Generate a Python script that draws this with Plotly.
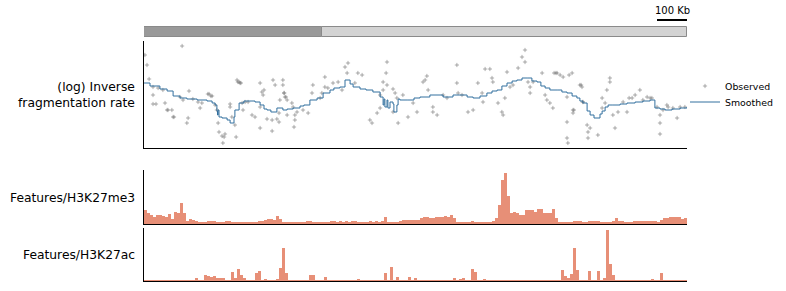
import plotly.graph_objects as go
import numpy as np

# ---------------- data ----------------
region_start = [0, 593]            # Kb
region_end = [593, 1810]
region_colors = ["#999999", "#d3d3d3"]
scale_len = 100                    # Kb
bin_size = 10                      # Kb

obs_pos = [3,10,17,127,30,30,30,47,63,70,80,93,97,120,130,150,147,143,163,180,
           193,187,213,223,237,243,247,250,260,263,270,267,287,287,293,303,307,313,320,310,
           327,337,330,347,360,370,387,393,397,387,400,410,427,443,427,387,453,463,463,467,
           470,477,450,450,477,493,497,503,500,503,510,530,547,563,560,587,593,603,603,613,
           630,647,660,677,680,670,703,713,727,753,760,777,787,787,797,807,810,797,810,830,
           837,843,847,830,863,880,910,897,930,937,943,947,963,963,977,997,1010,1043,1043,1047,
           1060,1080,1097,1113,1127,1130,1153,1160,1163,1180,1193,1197,1203,1210,1220,1230,1247,1260,1270,1270,
           1280,1287,1287,1297,1327,1337,1343,1353,1363,1377,1387,1397,1427,1410,1410,1410,1413,1430,1430,1453,
           1460,1463,1477,1480,1480,1487,1513,1527,1527,1537,1543,1553,1553,1563,1570,1580,1597,1610,1627,1637,
           1653,1663,1677,1687,1710,1720,1720,1720,1730,1743,1747,1763,1777,1787,1803,
           40,77,100,217,227,317,323,430,437,467,473,1137,1367,1373,1417,1433,1457,1463,1617,1693]
obs_val = [93,83,69,102,61,53,44,60,58,45,38,38,31,51,48,57,30,25,49,46,
           45,40,54,52,43,38,25,16,12,5,14,11,44,41,31,23,11,66,65,68,
           45,46,38,46,33,31,65,56,53,41,58,29,28,29,17,20,48,68,63,55,
           51,48,35,26,33,45,41,28,21,33,36,38,35,63,55,50,55,61,71,60,
           65,66,58,75,85,81,65,75,73,28,25,35,40,53,58,75,86,66,63,59,
           55,50,25,36,53,31,36,45,66,68,72,58,41,36,33,53,50,83,65,55,
           53,36,38,65,55,46,79,70,66,45,36,33,50,76,61,63,80,91,98,86,
           66,61,55,66,75,53,48,45,40,75,73,71,75,51,26,10,5,38,35,63,
           61,46,23,16,10,20,13,50,40,45,58,70,66,33,20,36,46,36,50,53,
           58,48,51,50,41,33,25,14,38,43,41,40,30,41,41,
           44,38,31,54,52,66,65,68,63,55,51,79,75,75,73,38,63,46,50,50]

smooth_pos = [0,3,20,53,77,97,120,143,177,210,227,237,243,245,247,250,260,277,287,300,303,317,
              333,353,370,387,400,410,423,443,463,477,497,520,533,553,577,597,620,633,653,670,
              687,697,720,740,763,787,797,800,803,810,813,820,830,833,843,847,853,877,900,920,953,997,1030,1053,1077,1097,
              1120,1143,1160,1177,1193,1210,1227,1243,1260,1277,1293,1310,1323,1337,1353,1377,1393,1410,1427,1443,
              1453,1463,1477,1487,1500,1510,1520,1527,1537,1547,1563,1587,1610,1637,1663,1687,1700,1703,1720,1737,
              1760,1787,1810]
smooth_val = [65,65,62,59,57,52,50,49,48,47,45,43,37,33,38,31,30,28,25,31,38,45,
              47,47,46,43,39,38,36,40,38,39,40,42,43,48,50,55,58,60,61,68,
              64,61,59,58,56,51,43,49,41,48,40,46,44,36,43,49,48,48,50,51,53,51,53,53,51,50,
              52,55,57,58,62,65,67,68,70,70,67,66,62,60,58,58,56,55,52,50,
              47,45,37,33,30,30,34,37,41,43,43,44,45,46,47,48,48,40,39,38,
              39,40,41]

h3k27me3 = [14,11,9,7,9,9,8,7.5,10,5,12,11,21,11,
            3,5,4,3.5,2.5,2.5,2,3,3.5,3,2.5,2,2,3,3,2.5,
            2,1.5,2,2.5,2.5,2,2,2,3,3.5,4.5,5,5,4.5,8,5,
            2.5,2,2,1.5,2,2,2.5,2.5,3,3.5,2.5,2,2,2,2.5,2.5,
            3,3,2.5,3,2.5,3,2.5,3,3.5,2.5,2.5,2.5,2.5,3,2.5,3,2.5,3,
            7,2.5,2.5,2,2.5,3.5,4,4,4,
            4.5,4.5,4.5,6.5,7.5,7,6.5,6.5,7,7,7,8.5,7,9,6,
            2.5,2.5,2,1.5,1.5,3,2.5,2,2,2,2,2,3,6.5,
            19,44,51,28,11,12.5,11,9,9,14,14,14,12.5,15.5,15.5,11,11.5,11.5,15.5,6,
            2.3,1.5,1.5,2.5,2.5,3.5,3.5,3,2.5,2.5,3,3,3,3,2.5,2.5,2.5,2.5,3,6.5,3,3,
            2.5,2.5,2.5,3,3,3,3,3,3,3,3,1.5,4,6.5,6.5,7.5,7.5,7,7,5,6.5]

h3k27ac = [0.5,0.5,0.5,0.5,0.5,0.5,0.5,0.5,0.5,0.5,
           0.5,0.5,0.5,0.5,0.5,0.5,0.5,2.7,0.5,0.5,
           6,5,3.7,5,3.3,3.3,2.7,0.5,0.5,9.3,
           3.3,11.7,6,2.7,0.5,0.5,0.5,7.7,10.3,0.5,
           1.3,0.5,0.5,0.5,1.3,13.3,32.7,8.3,1,1,
           1,0.5,0.5,0.5,0.5,6,6,0.5,0.5,0.5,
           4.3,0.5,0.5,0.5,0.5,0.5,0.5,0.5,0.5,0.5,
           0.5,1.3,0.5,0.5,0.5,0.5,0.5,0.5,0.5,0.5,
           7.7,0.5,14.3,0.5,4.3,0.5,0.5,0.5,3.7,0.5,
           2.7,0.5,0.5,0.5,0.5,0.5,0.5,0.5,0.5,0.5,
           0.5,0.5,0.5,2.7,0.5,1.7,2.7,0.5,0.5,12,
           8.7,0.5,0.5,1.3,0.5,0.5,0.5,0.5,0.5,0.5,
           0.5,0.5,0.5,0.5,0.5,0.5,0.5,0.5,0.5,0.5,
           0.5,0.5,0.5,0.5,0.5,0.5,0.5,0.5,0.5,11,
           5.3,2.7,7,32.7,11,0.5,0.5,0.5,10,0.5,
           0.5,10.3,0.5,2.7,51,16.7,6,0.5,0.5,0.5,
           0.5,0.5,0.5,0.5,0.5,0.5,0.5,0.5,0.5,1.3,
           0.5,0.5,7.7,0.5,0.5,0.5,0.5,0.5,0.5,0.5,
           0.5]

# ---------------- layout helpers ----------------
W, H = 786, 291
X0, X1 = 144, 687
def dom_x():
    return [X0 / W, X1 / W]
def dom_y(top_px, bot_px):
    return [1 - bot_px / H, 1 - top_px / H]

xr = [region_start[0], region_end[-1]]
bin_centers = np.arange(len(h3k27me3)) * bin_size + bin_size / 2

salmon = "rgb(231,143,119)"
fig = go.Figure()

# top region bar
fig.add_trace(go.Bar(
    x=[e - s for s, e in zip(region_start, region_end)], base=region_start,
    y=[5, 5], width=10, orientation="h",
    marker=dict(color=region_colors, line=dict(color="#8a8a8a", width=1)),
    xaxis="x", yaxis="y", showlegend=False, hoverinfo="skip"))
# scale bar
fig.add_trace(go.Scatter(
    x=[xr[1] - scale_len, xr[1]], y=[17, 17], mode="lines",
    line=dict(color="black", width=2), xaxis="x", yaxis="y",
    showlegend=False, hoverinfo="skip"))

# main plot
fig.add_trace(go.Scatter(
    x=obs_pos, y=obs_val, mode="markers", name="Observed",
    marker=dict(symbol="cross-thin", size=3,
                line=dict(width=1, color="rgba(120,120,120,0.6)")),
    xaxis="x2", yaxis="y2", legend="legend"))
fig.add_trace(go.Scatter(
    x=smooth_pos, y=smooth_val, mode="lines", name="Smoothed",
    line=dict(color="#33709f", width=1, shape="hv"),
    xaxis="x2", yaxis="y2", legend="legend2"))

# feature tracks
fig.add_trace(go.Bar(x=bin_centers, y=h3k27me3, width=bin_size,
                     marker=dict(color=salmon, line=dict(width=0)),
                     xaxis="x3", yaxis="y3", showlegend=False))
fig.add_trace(go.Bar(x=bin_centers, y=h3k27ac, width=bin_size,
                     marker=dict(color=salmon, line=dict(width=0)),
                     xaxis="x4", yaxis="y4", showlegend=False))

ax_off = dict(showgrid=False, zeroline=False, showticklabels=False, ticks="",
              showline=False, fixedrange=True)
ax_line = dict(showgrid=False, zeroline=False, showticklabels=False, ticks="",
               showline=True, linecolor="black", linewidth=1.3, fixedrange=True)

leg_common = dict(xanchor="left", yanchor="middle",
                  font=dict(size=9.4, family="DejaVu Sans"), itemwidth=30,
                  bgcolor="rgba(0,0,0,0)")

fig.update_layout(
    width=W, height=H,
    margin=dict(l=0, r=0, t=0, b=0, autoexpand=False),
    paper_bgcolor="white", plot_bgcolor="white",
    font=dict(family="DejaVu Sans", color="black"),
    bargap=0, barmode="overlay",
    xaxis=dict(domain=dom_x(), range=xr, anchor="y", **ax_off),
    yaxis=dict(domain=dom_y(10, 37), range=[0, 27], anchor="x", **ax_off),
    xaxis2=dict(domain=dom_x(), range=xr, anchor="y2", **ax_line),
    yaxis2=dict(domain=dom_y(41, 148), range=[0, 107], anchor="x2", **ax_line),
    xaxis3=dict(domain=dom_x(), range=xr, anchor="y3", **ax_line),
    yaxis3=dict(domain=dom_y(170, 224), range=[0, 54], anchor="x3", **ax_line),
    xaxis4=dict(domain=dom_x(), range=xr, anchor="y4", **ax_line),
    yaxis4=dict(domain=dom_y(228, 281), range=[0, 53], anchor="x4", **ax_line),
    legend=dict(x=685 / W, y=1 - 86 / H, **leg_common),
    legend2=dict(x=685 / W, y=1 - 102 / H, **leg_common),
    annotations=[
        dict(text=f"{scale_len} Kb", x=xr[1] - scale_len / 2, y=19, xref="x", yref="y",
             xanchor="center", yanchor="bottom", showarrow=False,
             font=dict(size=10)),
        dict(text="(log) Inverse<br>fragmentation rate", x=137 / W, y=1 - 95 / H,
             xref="paper", yref="paper", xanchor="right", yanchor="middle",
             align="right", showarrow=False, font=dict(size=12.3)),
        dict(text="Features/H3K27me3", x=137 / W, y=1 - 198 / H,
             xref="paper", yref="paper", xanchor="right", yanchor="middle",
             showarrow=False, font=dict(size=12.3)),
        dict(text="Features/H3K27ac", x=137 / W, y=1 - 255 / H,
             xref="paper", yref="paper", xanchor="right", yanchor="middle",
             showarrow=False, font=dict(size=12.3)),
    ],
)

fig.write_html("out.html")
